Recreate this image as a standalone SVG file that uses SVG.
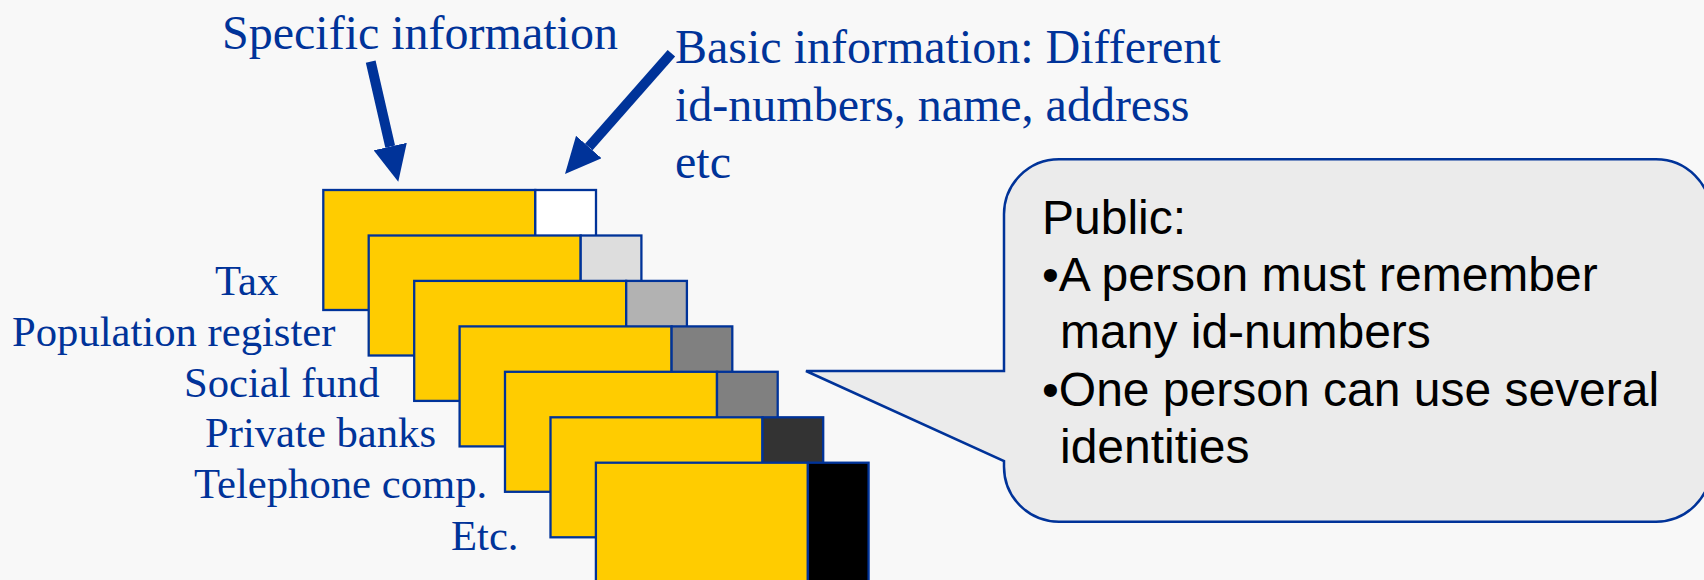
<svg xmlns="http://www.w3.org/2000/svg" width="1704" height="580" viewBox="0 0 1704 580">
  <style>
    .serif { font-family: "Liberation Serif", "Times New Roman", serif; fill: #003399; }
    .big { font-size: 48px; }
    .lbl { font-size: 42.67px; }
    .sans { font-family: "Liberation Sans", Arial, sans-serif; font-size: 48px; fill: #000000; }
    .yel { fill: #FFCC00; stroke: #003399; stroke-width: 2.3; }
    .idb { stroke: #003399; stroke-width: 2.3; }
    .arrow { stroke: #003399; stroke-width: 10; fill: none; marker-end: url(#head); }
    .callout { fill: #EBEBEB; stroke: #003399; stroke-width: 2.5; }
  </style>
  <defs>
    <marker id="head" viewBox="0 0 36 34" refX="0" refY="17" markerWidth="36" markerHeight="34" markerUnits="userSpaceOnUse" orient="auto">
      <path d="M0,0 L36,17 L0,34 z" fill="#003399"/>
    </marker>
  </defs>
  <rect x="0" y="0" width="1704" height="580" fill="#F8F8F8"/>

  <g id="title-specific">
    <text class="serif big" x="222" y="49">Specific information</text>
  </g>
  <g id="title-basic">
    <text class="serif big" x="675" y="63">Basic information: Different</text>
    <text class="serif big" x="675" y="121">id-numbers, name, address</text>
    <text class="serif big" x="675" y="178">etc</text>
  </g>

  <g id="labels">
    <text class="serif lbl" x="215" y="295">Tax</text>
    <text class="serif lbl" x="12" y="346">Population register</text>
    <text class="serif lbl" x="184" y="397">Social fund</text>
    <text class="serif lbl" x="205" y="447">Private banks</text>
    <text class="serif lbl" x="194" y="498">Telephone comp.</text>
    <text class="serif lbl" x="451" y="550">Etc.</text>
  </g>

  <g id="card-1" transform="translate(323.3,190)">
    <rect class="yel" x="0" y="0" width="212" height="120"/>
    <rect class="idb" x="212" y="0" width="60.7" height="120" fill="#FFFFFF"/>
  </g>
  <g id="card-2" transform="translate(368.7,235.5)">
    <rect class="yel" x="0" y="0" width="212" height="120"/>
    <rect class="idb" x="212" y="0" width="60.7" height="120" fill="#DDDDDD"/>
  </g>
  <g id="card-3" transform="translate(414.2,280.9)">
    <rect class="yel" x="0" y="0" width="212" height="120"/>
    <rect class="idb" x="212" y="0" width="60.7" height="120" fill="#B2B2B2"/>
  </g>
  <g id="card-4" transform="translate(459.6,326.4)">
    <rect class="yel" x="0" y="0" width="212" height="120"/>
    <rect class="idb" x="212" y="0" width="60.7" height="120" fill="#808080"/>
  </g>
  <g id="card-5" transform="translate(505,371.8)">
    <rect class="yel" x="0" y="0" width="212" height="120"/>
    <rect class="idb" x="212" y="0" width="60.7" height="120" fill="#808080"/>
  </g>
  <g id="card-6" transform="translate(550.5,417.3)">
    <rect class="yel" x="0" y="0" width="212" height="120"/>
    <rect class="idb" x="212" y="0" width="60.7" height="120" fill="#333333"/>
  </g>
  <g id="card-7" transform="translate(595.9,462.7)">
    <rect class="yel" x="0" y="0" width="212" height="120"/>
    <rect class="idb" x="212" y="0" width="60.7" height="120" fill="#000000"/>
  </g>

  <g id="connectors">
    <line class="arrow" x1="370.7" y1="61.7" x2="390.2" y2="146.6"/>
    <line class="arrow" x1="671.4" y1="53.3" x2="588.8" y2="147"/>
  </g>

  <g id="callout">
    <path class="callout" d="M806,371 L1004,371 L1004,214.3 A55,55 0 0 1 1059,159.3 L1656,159.3 A55,55 0 0 1 1711,214.3 L1711,466.7 A55,55 0 0 1 1656,521.7 L1059,521.7 A55,55 0 0 1 1004,466.7 L1004,461 Z"/>
    <text class="sans" x="1042" y="234">Public:</text>
    <text class="sans" x="1042" y="291">•A person must remember</text>
    <text class="sans" x="1060" y="348">many id-numbers</text>
    <text class="sans" x="1042" y="406">•One person can use several</text>
    <text class="sans" x="1060" y="463">identities</text>
  </g>
</svg>
